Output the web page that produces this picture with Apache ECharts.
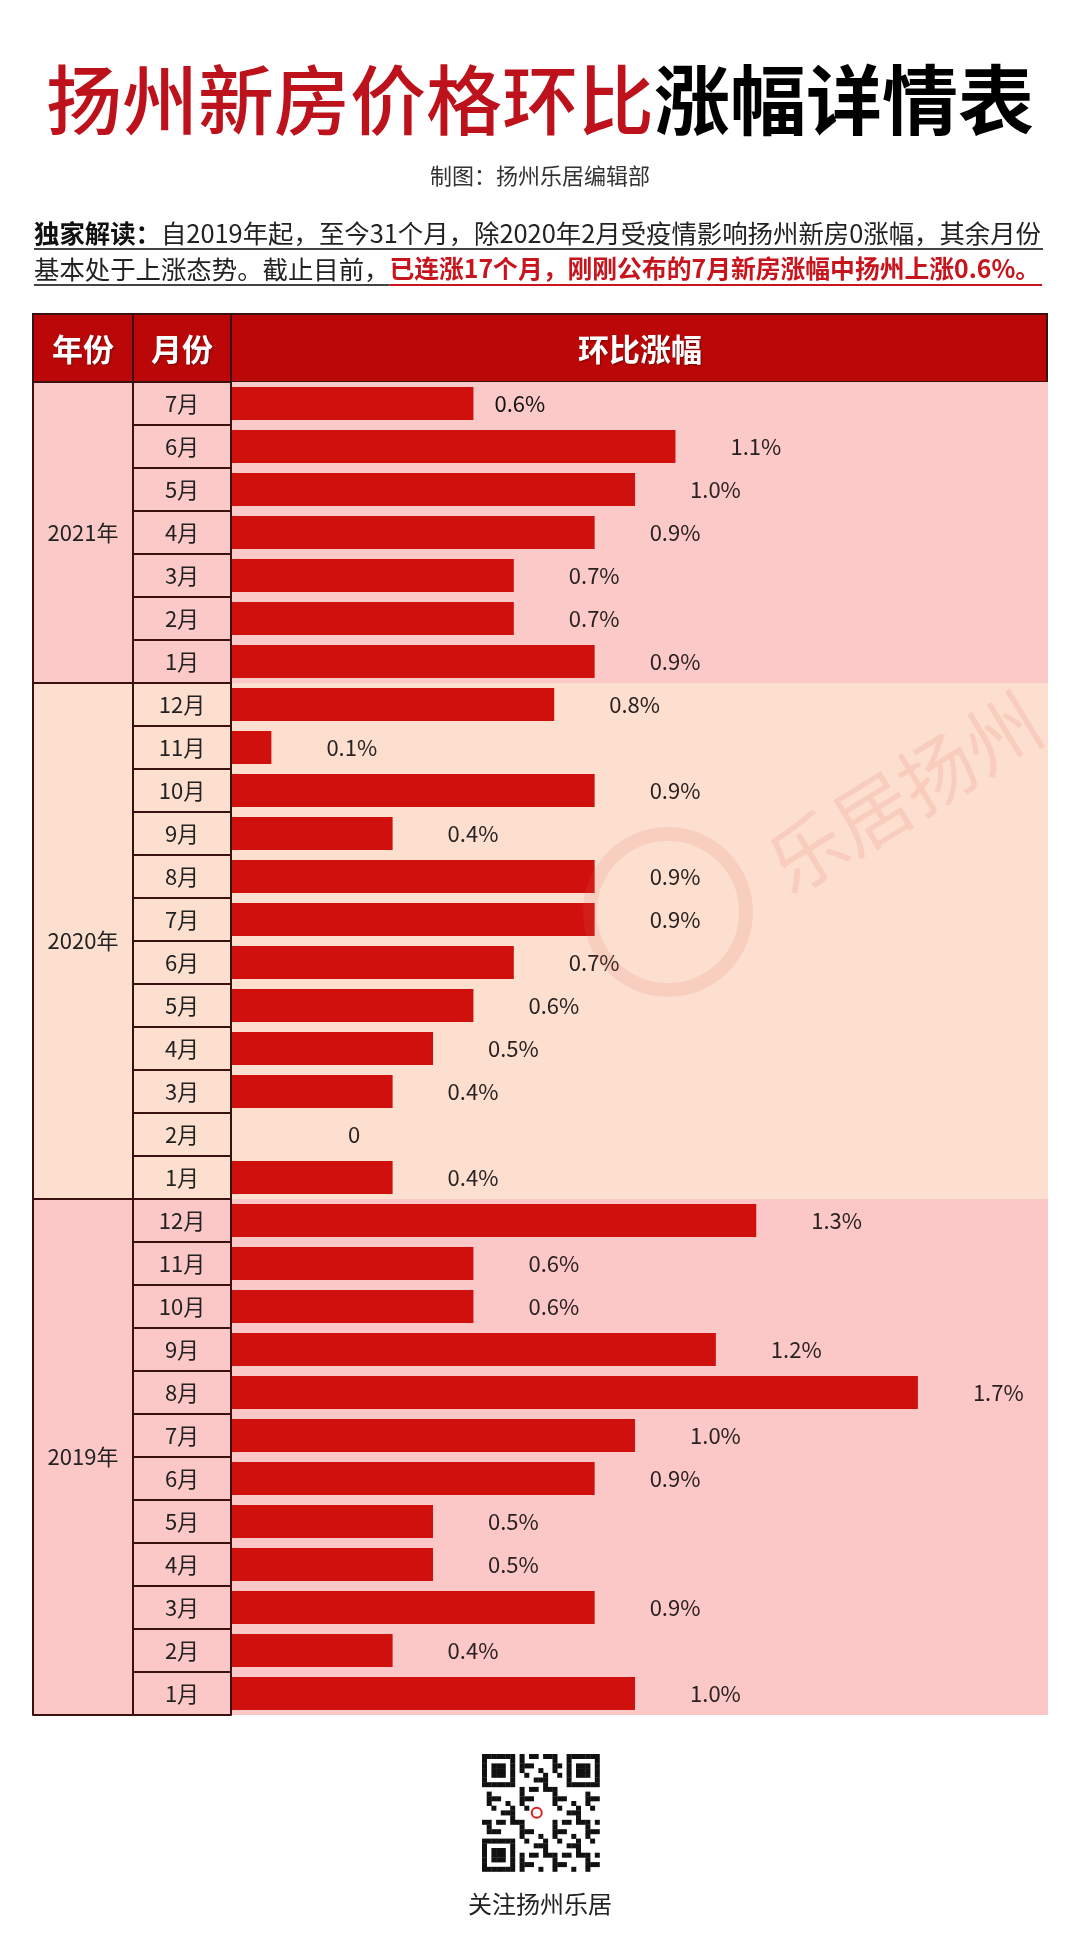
<!DOCTYPE html>
<html><head><meta charset="utf-8">
<script src="https://cdn.jsdelivr.net/npm/echarts@6/dist/echarts.min.js"></script>
<style>html,body{margin:0;padding:0;background:#fff}#c{width:1080px;height:1948px}</style>
</head><body><div id="c"></div>
<script>
// ---------------- data ----------------
const years = ['2021年', '2020年', '2019年'];
const months2021 = ['7月','6月','5月','4月','3月','2月','1月'];
const values2021 = [0.6, 1.1, 1.0, 0.9, 0.7, 0.7, 0.9];
const months2020 = ['12月','11月','10月','9月','8月','7月','6月','5月','4月','3月','2月','1月'];
const values2020 = [0.8, 0.1, 0.9, 0.4, 0.9, 0.9, 0.7, 0.6, 0.5, 0.4, 0, 0.4];
const months2019 = ['12月','11月','10月','9月','8月','7月','6月','5月','4月','3月','2月','1月'];
const values2019 = [1.3, 0.6, 0.6, 1.2, 1.7, 1.0, 0.9, 0.5, 0.5, 0.9, 0.4, 1.0];
const headerLabels = ['年份', '月份', '环比涨幅'];
const titleRed = '扬州新房价格环比';
const titleBlack = '涨幅详情表';
const subtitle = '制图：扬州乐居编辑部';
const noteBold = '独家解读：';
const noteLine1 = '自2019年起，至今31个月，除2020年2月受疫情影响扬州新房0涨幅，其余月份';
const noteLine2a = '基本处于上涨态势。截止目前，';
const noteLine2b = '已连涨17个月，刚刚公布的7月新房涨幅中扬州上涨0.6%。';
const footer = '关注扬州乐居';

// ---------------- build ----------------
const sections = [
  { year: years[0], months: months2021, values: values2021, bg: '#fbc9c7' },
  { year: years[1], months: months2020, values: values2020, bg: '#fddfcf' },
  { year: years[2], months: months2019, values: values2019, bg: '#fbc8c7' }
];
const cats = [], vals = [], bgs = [], boundaries = [0], centers = [], centerYear = {};
let idx = 0;
sections.forEach(s => {
  const start = idx;
  s.months.forEach((m, i) => { cats.push(s.year + m); vals.push(s.values[i]); bgs.push(s.bg); idx++; });
  boundaries.push(idx);
  const c = (start + idx) / 2;
  centers.push(c); centerYear[c] = s.year;
});
const N = cats.length;
const FF = '"Noto Sans CJK SC","Noto Sans",sans-serif';
const BORDER = '#3a1010';
const XMIN = -0.49, XMAX = 2.022;

const meas = document.createElement('canvas').getContext('2d');
function tw(t, w, s) { meas.font = w + ' ' + s + 'px ' + FF; return meas.measureText(t).width; }

const NS = 25.4, NSR = 24.8;
const l1w = tw(noteBold, 'bold', NS) + tw(noteLine1, 'normal', NS);
const l2aw = tw(noteLine2a, 'normal', NS);
const l2bw = tw(noteLine2b, 'bold', NSR);

// QR-like decoration
const qr = [];
const QX = 482, QY = 1754, QM = 4.7, QN = 25;
function inFinder(r, c) {
  const fs = [[0,0],[0,QN-7],[QN-7,0]];
  for (const [fr, fc] of fs) {
    if (r >= fr && r < fr + 7 && c >= fc && c < fc + 7) {
      const rr = r - fr, cc = c - fc;
      return (rr === 0 || rr === 6 || cc === 0 || cc === 6 || (rr >= 2 && rr <= 4 && cc >= 2 && cc <= 4)) ? 1 : 0;
    }
    if (r >= fr - 1 && r <= fr + 7 && c >= fc - 1 && c <= fc + 7) return 0;
  }
  return -1;
}
for (let r = 0; r < QN; r++) for (let c = 0; c < QN; c++) {
  let on = inFinder(r, c);
  if (on === -1) on = ((r * r * 3 + c * 7 + r * c * 5 + c * c) % 7) < 3 ? 1 : 0;
  if (r >= 10 && r <= 14 && c >= 10 && c <= 14) on = 0;
  if (on) qr.push({ type: 'rect', shape: { x: QX + c * QM, y: QY + r * QM, width: QM + 0.3, height: QM + 0.3 }, style: { fill: '#111' } });
}
qr.push({ type: 'circle', shape: { cx: QX + 12.5 * QM - 4, cy: QY + 12.5 * QM, r: 5 }, style: { fill: 'none', stroke: '#d22', lineWidth: 2 } });

const chart = echarts.init(document.getElementById('c'), null, { renderer: 'canvas' });
const option = {
  backgroundColor: '#ffffff',
  animation: false,
  grid: { left: 33, top: 382, width: 1015, height: 1333, containLabel: false, outerBoundsMode: 'none' },
  xAxis: { type: 'value', min: XMIN, max: XMAX, show: false },
  yAxis: [
    {
      type: 'category', data: cats, inverse: true, z: 10, position: 'left', offset: -198,
      axisLine: { show: true, onZero: false, lineStyle: { color: BORDER, width: 2 } },
      axisTick: { show: true, interval: 0, length: 98, lineStyle: { color: BORDER, width: 2 } },
      axisLabel: { interval: 0, formatter: v => v.replace(/^\d+年/, ''), align: 'center', margin: 49,
        fontSize: 22, color: '#222', fontFamily: FF },
      splitLine: { show: false }
    },
    { type: 'category', data: cats, inverse: true, show: false },
    {
      type: 'value', min: 0, max: N, inverse: true, position: 'left', z: 10,
      axisLine: { show: true, onZero: false, lineStyle: { color: BORDER, width: 2 } },
      axisTick: { show: true, inside: true, length: 100, customValues: boundaries, lineStyle: { color: BORDER, width: 2 } },
      axisLabel: { show: true, inside: true, customValues: centers, formatter: v => centerYear[v] || '',
        align: 'center', margin: 50, fontSize: 22, color: '#222', fontFamily: FF },
      splitLine: { show: false }
    },
    {
      type: 'value', min: 0, max: N, position: 'left', offset: -100, z: 10,
      axisLine: { show: true, onZero: false, lineStyle: { color: BORDER, width: 2 } },
      axisTick: { show: false }, axisLabel: { show: false }, splitLine: { show: false }
    }
  ],
  series: [
    { type: 'bar', yAxisIndex: 0, barWidth: '100%', barGap: '-100%', silent: true, z: 1,
      data: cats.map((c, i) => ({ value: XMAX, itemStyle: { color: bgs[i] } })) },
    { type: 'bar', yAxisIndex: 0, barWidth: '100%', barGap: '-100%', silent: true, z: 1,
      data: cats.map((c, i) => ({ value: XMIN, itemStyle: { color: bgs[i] } })) },
    { type: 'bar', yAxisIndex: 1, barWidth: 33, z: 3,
      itemStyle: { color: '#d0100d' },
      data: vals.map((v, i) => {
        const d = { value: v };
        if (i === 0) d.label = { distance: 21, color: '#111' };
        else if (v === 0) d.label = { distance: 117 };
        return d;
      }),
      label: { show: true, position: 'right', distance: 55, fontSize: 22, color: '#2a2222', fontFamily: FF,
        formatter: p => p.value === 0 ? '0' : p.value.toFixed(1) + '%' }
    }
  ],
  graphic: [
    { type: 'text', x: 540, y: 100, style: { text: '{r|' + titleRed + '}{b|' + titleBlack + '}', align: 'center', verticalAlign: 'middle',
        rich: { r: { fontSize: 76, fontFamily: FF, fill: '#bd121b', fontWeight: 500 }, b: { fontSize: 76, fontFamily: FF, fill: '#000', fontWeight: 'bold' } } } },
    { type: 'text', x: 540, y: 176, style: { text: subtitle, fontSize: 22, fontFamily: FF, fill: '#333', align: 'center', verticalAlign: 'middle' } },
    { type: 'text', x: 34, y: 233, style: { text: '{b|' + noteBold + '}{n|' + noteLine1 + '}', align: 'left', verticalAlign: 'middle',
        rich: { b: { fontSize: NS, fontWeight: 'bold', fontFamily: FF, fill: '#111' }, n: { fontSize: NS, fontFamily: FF, fill: '#222' } } } },
    { type: 'line', shape: { x1: 34, y1: 249, x2: 34 + l1w + 2, y2: 249 }, style: { stroke: '#444', lineWidth: 2 } },
    { type: 'text', x: 34, y: 269, style: { text: noteLine2a, fontSize: NS, fontFamily: FF, fill: '#222', align: 'left', verticalAlign: 'middle' } },
    { type: 'text', x: 34 + l2aw, y: 269, style: { text: noteLine2b, fontSize: NSR, fontWeight: 'bold', fontFamily: FF, fill: '#c8141c', align: 'left', verticalAlign: 'middle' } },
    { type: 'line', shape: { x1: 34, y1: 285, x2: 34 + l2aw, y2: 285 }, style: { stroke: '#444', lineWidth: 2 } },
    { type: 'line', shape: { x1: 34 + l2aw, y1: 285, x2: 34 + l2aw + l2bw + 2, y2: 285 }, style: { stroke: '#c8141c', lineWidth: 2 } },
    // header
    { type: 'rect', shape: { x: 33, y: 314, width: 1014, height: 68 }, style: { fill: '#bb0707', stroke: BORDER, lineWidth: 2 } },
    { type: 'line', shape: { x1: 133, y1: 314, x2: 133, y2: 382 }, style: { stroke: BORDER, lineWidth: 2 } },
    { type: 'line', shape: { x1: 231, y1: 314, x2: 231, y2: 382 }, style: { stroke: BORDER, lineWidth: 2 } },
    { type: 'text', x: 83, y: 349, style: { text: headerLabels[0], fontSize: 31, fontWeight: 'bold', fontFamily: FF, fill: '#fff', align: 'center', verticalAlign: 'middle', textShadowColor: 'rgba(0,0,0,0.35)', textShadowBlur: 2, textShadowOffsetX: 1, textShadowOffsetY: 1 } },
    { type: 'text', x: 182, y: 349, style: { text: headerLabels[1], fontSize: 31, fontWeight: 'bold', fontFamily: FF, fill: '#fff', align: 'center', verticalAlign: 'middle', textShadowColor: 'rgba(0,0,0,0.35)', textShadowBlur: 2, textShadowOffsetX: 1, textShadowOffsetY: 1 } },
    { type: 'text', x: 640, y: 349, style: { text: headerLabels[2], fontSize: 31, fontWeight: 'bold', fontFamily: FF, fill: '#fff', align: 'center', verticalAlign: 'middle', textShadowColor: 'rgba(0,0,0,0.35)', textShadowBlur: 2, textShadowOffsetX: 1, textShadowOffsetY: 1 } },
    // watermark
    { type: 'text', x: 775, y: 872, rotation: 0.55, z: 100, silent: true, style: { text: '乐居扬州', fontSize: 76, fontFamily: FF, fill: 'rgba(220,110,90,0.15)', align: 'left', verticalAlign: 'middle' } },
    { type: 'circle', z: 100, silent: true, shape: { cx: 668, cy: 912, r: 78 }, style: { fill: 'none', stroke: 'rgba(220,110,90,0.14)', lineWidth: 14 } },
    // QR + footer
    { type: 'group', children: qr },
    { type: 'text', x: 540, y: 1904, style: { text: footer, fontSize: 24, fontFamily: FF, fill: '#222', align: 'center', verticalAlign: 'middle' } }
  ]
};
chart.setOption(option);
</script>
</body></html>
